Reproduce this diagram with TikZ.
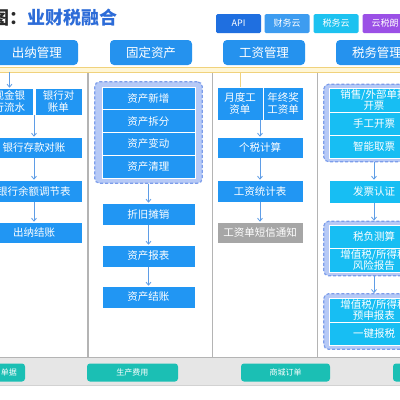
\documentclass[tikz,border=0pt]{standalone}
\usepackage{fontspec}
\setmainfont{Noto Sans CJK SC}
\usetikzlibrary{arrows.meta, fit, backgrounds}

\definecolor{boxblue}{HTML}{2196F3}
\definecolor{boxcyan}{HTML}{17BEF3}
\definecolor{boxgray}{HTML}{A6A6A6}
\definecolor{headblue}{HTML}{2592EE}
\definecolor{titleblue}{HTML}{2D6CD8}
\definecolor{titledark}{HTML}{2A2A2A}
\definecolor{tagapi}{HTML}{1F6FE0}
\definecolor{tagfin}{HTML}{3D9CF0}
\definecolor{tagtax}{HTML}{1DC2F0}
\definecolor{tagcloud}{HTML}{9B50E6}
\definecolor{grpfill}{HTML}{B6C9F6}
\definecolor{grpline}{HTML}{7C9DEB}
\definecolor{arrowblue}{HTML}{5F9DE6}
\definecolor{bandfill}{HTML}{FFF6D6}
\definecolor{bandline}{HTML}{F0D27C}
\definecolor{colline}{HTML}{B4B4B4}
\definecolor{bottomfill}{HTML}{E6E6E6}
\definecolor{btnteal}{HTML}{1BBFB4}

\begin{document}
\begin{tikzpicture}[x=1pt, y=-1pt,
		blk/.style={fill=boxblue, draw=white, line width=0.6pt, text=white, align=center, inner sep=0pt,
			font=\fontsize{10.5}{11.5}\selectfont, minimum height=22pt},
		cashblk/.style={blk, minimum width=96pt},
		assetblk/.style={blk, minimum width=93pt},
		wageblk/.style={blk, minimum width=86pt},
		taxblk/.style={blk, fill=boxcyan, minimum width=90pt, minimum height=23pt},
		grp/.style={draw=grpline, densely dashed, line width=1.2pt, fill=grpfill, rounded corners=5pt, inner sep=5pt},
		head/.style={fill=headblue, rounded corners=4pt, text=white, inner sep=0pt, minimum width=82pt,
			minimum height=25pt, font=\fontsize{12.5}{13}\selectfont},
		tag/.style={rounded corners=1.5pt, text=white, inner sep=0pt, minimum width=45pt, minimum height=19pt,
			font=\fontsize{9}{9}\selectfont},
		btn/.style={fill=btnteal, rounded corners=3pt, text=white, inner sep=0pt, minimum width=91pt,
			minimum height=18pt, font=\fontsize{8}{8}\selectfont},
		arr/.style={draw=arrowblue, line width=0.8pt, -{Straight Barb[length=3pt, width=5pt]}}]
	\useasboundingbox (0,0) rectangle (400,400);

	% title and tags
	\node[anchor=west, inner sep=0pt, text=titledark, font=\bfseries\fontsize{18}{18}\selectfont] (title) at (-9,18)
		{图：\textcolor{titleblue}{业财税融合}};
	\node[tag, fill=tagapi] (api) at (238.5,23.5) {API};
	\node[tag, fill=tagfin] (fincloud) at (287,23.5) {财务云};
	\node[tag, fill=tagtax] (taxcloud) at (336,23.5) {税务云};
	\node[tag, fill=tagcloud] (cloud) at (385,23.5) {云税朗};

	% headers
	\node[head] (hcash) at (37,52.5) {出纳管理};
	\node[head] (hasset) at (151,52.5) {固定资产};
	\node[head] (hwage) at (264,52.5) {工资管理};
	\node[head] (htax) at (377,52.5) {税务管理};

	% band, columns, bottom strip
	\draw[fill=bandfill, draw=bandline, line width=1pt] (-5,67) rectangle (405,72);
	\coordinate (band) at (0,72);
	\draw[colline, line width=1.4pt] (88,73) -- (88,357);
	\draw[colline, line width=0.8pt] (212,73) -- (212,357);
	\draw[colline, line width=0.8pt] (317,73) -- (317,357);
	\fill[bottomfill] (-5,357) rectangle (405,385);
	\draw[colline, line width=1pt] (-5,357) -- (405,357);
	\draw[colline!60, line width=0.6pt] (-5,385) -- (405,385);

	% cashier
	\node[blk, minimum width=47pt, minimum height=27pt] (cash) at (9.5,101.5) {现金银\\行流水};
	\node[blk, minimum width=47pt, minimum height=27pt] (recon) at (58.5,101.5) {银行对\\账单};
	\node[cashblk, minimum height=21pt] (deposit) at (34,147.5) {银行存款对账};
	\node[cashblk] (balance) at (34,191) {银行余额调节表};
	\node[cashblk, minimum height=21pt] (cashclose) at (34,232.5) {出纳结账};
	\draw[arr] (cash.north |- band) -- (cash.north);
	\draw[arr] (deposit.north |- cash.south) -- (deposit.north);
	\draw[arr] (deposit) -- (balance);
	\draw[arr] (balance) -- (cashclose);

	% fixed assets
	\node[assetblk, minimum height=22.75pt] (anew) at (148.5,98.4) {资产新增};
	\node[assetblk, minimum height=22.75pt] (asplit) at (148.5,121.1) {资产拆分};
	\node[assetblk, minimum height=22.75pt] (achange) at (148.5,143.9) {资产变动};
	\node[assetblk, minimum height=22.75pt] (aclear) at (148.5,166.6) {资产清理};
	\begin{scope}[on background layer]
		\fill[white] (0,0) rectangle (400,400);
		\node[grp, fit=(anew)(aclear), inner ysep=5pt, inner xsep=7pt] (agrp) {};
	\end{scope}
	\node[assetblk] (depr) at (148.5,214) {折旧摊销};
	\node[assetblk] (areport) at (148.5,256) {资产报表};
	\node[assetblk] (aclose) at (148.5,297) {资产结账};
	\draw[arr] (agrp) -- (depr);
	\draw[arr] (depr) -- (areport);
	\draw[arr] (areport) -- (aclose);

	% wages
	\node[blk, minimum width=46pt, minimum height=33pt] (monthly) at (240,103.5) {月度工\\资单};
	\node[blk, minimum width=40pt, minimum height=33pt] (bonus) at (283,103.5) {年终奖\\工资单};
	\node[wageblk, minimum height=21pt] (ptax) at (260,147.5) {个税计算};
	\node[wageblk] (wstats) at (260,191) {工资统计表};
	\node[wageblk, fill=boxgray, minimum height=21pt] (sms) at (260,232.5) {工资单短信通知};
	\draw[bandline, line width=1pt] (monthly.north |- band) -- (monthly.north);
	\draw[arr] (ptax.north |- monthly.south) -- (ptax.north);
	\draw[arr] (ptax) -- (wstats);
	\draw[arr] (wstats) -- (sms);

	% tax
	\node[taxblk, minimum height=24pt] (sale) at (374,100) {销售/外部单据\\开票};
	\node[taxblk] (manual) at (374,123.5) {手工开票};
	\node[taxblk] (smart) at (374,146.5) {智能取票};
	\node[taxblk] (verify) at (374,191.5) {发票认证};
	\node[taxblk] (burden) at (374,236.5) {税负测算};
	\node[taxblk, minimum height=24pt] (risk) at (374,260) {增值税/所得税\\风险报告};
	\node[taxblk, minimum height=24pt] (declare) at (374,310) {增值税/所得税\\预申报表};
	\node[taxblk] (onekey) at (374,333.5) {一键报税};
	\begin{scope}[on background layer]
		\node[grp, fit=(sale)(smart), inner ysep=3.5pt] (tgrpa) {};
		\node[grp, fit=(burden)(risk), inner ysep=3.5pt] (tgrpb) {};
		\node[grp, fit=(declare)(onekey), inner ysep=4pt] (tgrpc) {};
	\end{scope}
	\draw[arr] (tgrpa) -- (verify);
	\draw[arr] (verify) -- (tgrpb);
	\draw[arr] (tgrpb) -- (tgrpc);

	% bottom buttons
	\node[btn, text width=75pt, align=right] (bbill) at (-20.5,372.5) {单据};
	\node[btn] (bcost) at (132.5,372.5) {生产费用};
	\node[btn, minimum width=89pt] (border) at (285.5,372.5) {商城订单};
	\node[btn] (bnext) at (438.5,372.5) {};
\end{tikzpicture}
\end{document}
